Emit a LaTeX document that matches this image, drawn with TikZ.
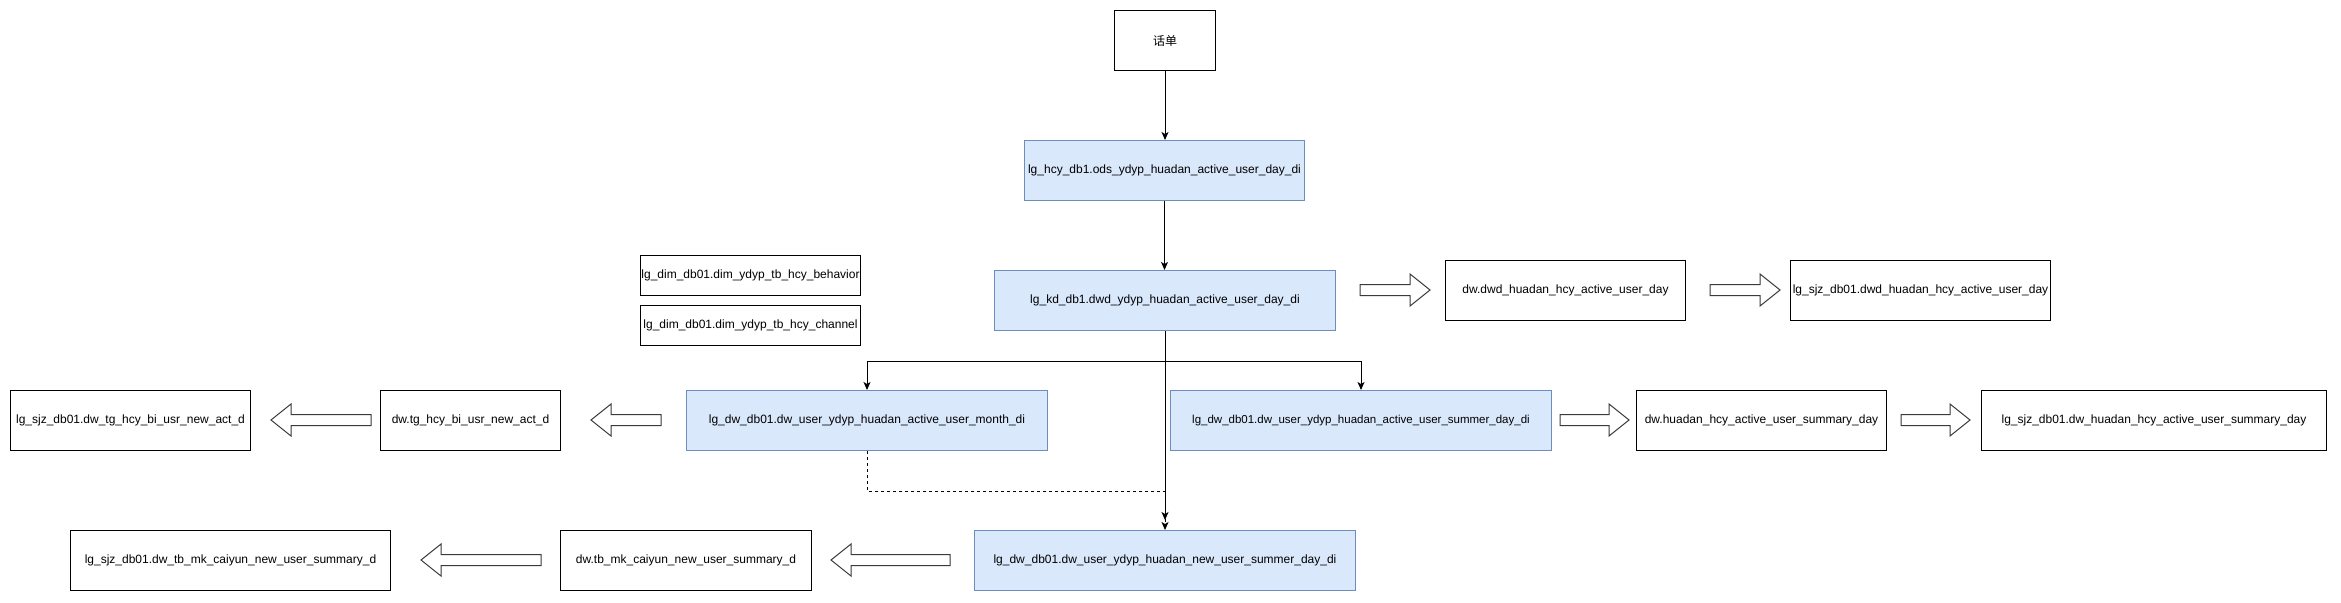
\documentclass[tikz,border=0pt]{standalone}
\usepackage{fontspec}
\setmainfont{Liberation Sans}
\newfontfamily\cjk{Noto Sans CJK SC}
\usetikzlibrary{arrows.meta,calc}
\definecolor{bluefill}{HTML}{DAE8FC}
\definecolor{bluedraw}{HTML}{6C8EBF}
\definecolor{flexgray}{HTML}{3A3A3A}
\tikzset{
  tbl/.style={draw=black, fill=white, line width=1pt, rectangle, anchor=north west,
    inner sep=0pt, minimum height=60pt, font=\fontsize{12}{14}\selectfont},
  bluetbl/.style={tbl, draw=bluedraw, fill=bluefill},
  edge/.style={draw=black, line width=1pt, -{Stealth[length=8pt,width=7pt,inset=2pt]}},
  flexline/.style={draw=flexgray, fill=white, line width=1pt, line join=miter},
}
\newcommand\flexarrow[3]{% tail x, tip x, y
  \pgfmathsetmacro\fhb{#2-20*sign(#2-#1)}%
  \draw[flexline] (#1,#3-5.5) -- (\fhb,#3-5.5) -- (\fhb,#3-16) -- (#2,#3)
     -- (\fhb,#3+16) -- (\fhb,#3+5.5) -- (#1,#3+5.5) -- cycle;}
\begin{document}
\begin{tikzpicture}[x=1pt,y=-1pt]
\fill[white] (0,0) rectangle (2341,602);
\useasboundingbox (0,0) rectangle (2341,602);

\node[tbl, minimum width=101pt] (hd) at (1114,10) {\cjk 话单};
\node[bluetbl, minimum width=280pt] (ods) at (1024,140) {lg\_hcy\_db1.ods\_ydyp\_huadan\_active\_user\_day\_di};
\node[bluetbl, minimum width=341pt] (dwd) at (994,270) {lg\_kd\_db1.dwd\_ydyp\_huadan\_active\_user\_day\_di};

\node[tbl, minimum width=220pt, minimum height=40pt] (beh) at (640,255) {lg\_dim\_db01.dim\_ydyp\_tb\_hcy\_behavior};
\node[tbl, minimum width=220pt, minimum height=40pt] (chan) at (640,305) {lg\_dim\_db01.dim\_ydyp\_tb\_hcy\_channel};

\node[tbl, minimum width=240pt] (dwdw) at (1445,260) {dw.dwd\_huadan\_hcy\_active\_user\_day};
\node[tbl, minimum width=260pt] (sjzdwd) at (1790,260) {lg\_sjz\_db01.dwd\_huadan\_hcy\_active\_user\_day};

\node[bluetbl, minimum width=361pt] (month) at (686,390) {lg\_dw\_db01.dw\_user\_ydyp\_huadan\_active\_user\_month\_di};
\node[bluetbl, minimum width=381pt, font=\fontsize{11.5}{14}\selectfont] (summer) at (1170,390) {lg\_dw\_db01.dw\_user\_ydyp\_huadan\_active\_user\_summer\_day\_di};
\node[tbl, minimum width=250pt] (sumday) at (1636,390) {dw.huadan\_hcy\_active\_user\_summary\_day};
\node[tbl, minimum width=345pt] (sjzsum) at (1981,390) {lg\_sjz\_db01.dw\_huadan\_hcy\_active\_user\_summary\_day};
\node[tbl, minimum width=180pt] (tg) at (380,390) {dw.tg\_hcy\_bi\_usr\_new\_act\_d};
\node[tbl, minimum width=240pt] (sjztg) at (10,390) {lg\_sjz\_db01.dw\_tg\_hcy\_bi\_usr\_new\_act\_d};

\node[bluetbl, minimum width=381pt] (new) at (974,530) {lg\_dw\_db01.dw\_user\_ydyp\_huadan\_new\_user\_summer\_day\_di};
\node[tbl, minimum width=251pt] (tbmk) at (560,530) {dw.tb\_mk\_caiyun\_new\_user\_summary\_d};
\node[tbl, minimum width=320pt] (sjztbmk) at (70,530) {lg\_sjz\_db01.dw\_tb\_mk\_caiyun\_new\_user\_summary\_d};

% connectors
\draw[edge] (hd.south) -- (hd.south |- ods.north);
\draw[edge] (ods.south) -- (ods.south |- dwd.north);
\draw[edge] (dwd.south) -- ++(0,30) -| (month.north);
\draw[edge] (dwd.south) -- ++(0,30) -| (summer.north);
\draw[edge, dash pattern=on 3pt off 3pt] (month.south) -- ++(0,40) -| (new.north);
\draw[edge] (dwd.south) -- ($(dwd.south |- new.north)+(0,-10)$);

% hollow (flex) arrows
\flexarrow{1360}{1430}{290}
\flexarrow{1710}{1780}{290}
\flexarrow{1560}{1629}{420}
\flexarrow{1901}{1970}{420}
\flexarrow{661}{591}{420}
\flexarrow{371}{271}{420}
\flexarrow{950}{831}{560}
\flexarrow{541}{421}{560}
\end{tikzpicture}
\end{document}
